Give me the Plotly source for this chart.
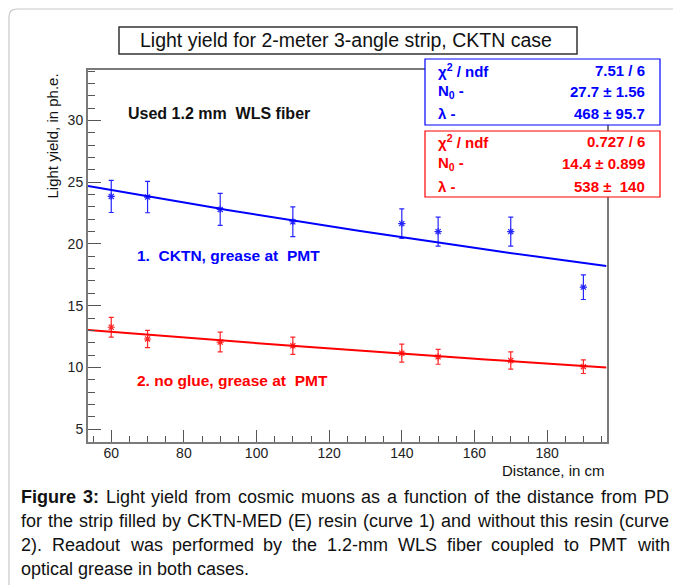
import numpy as np
import plotly.graph_objects as go

# ---------------- data ----------------
distance = [60, 70, 90, 110, 140, 150, 170, 190]
ly_ckt = [23.85, 23.8, 22.8, 21.8, 21.65, 21.0, 21.0, 16.5]
ly_ckt_err = [1.3, 1.27, 1.3, 1.2, 1.2, 1.17, 1.17, 1.0]
ly_noglue = [13.25, 12.3, 12.05, 11.75, 11.15, 10.85, 10.55, 10.05]
ly_noglue_err = [0.8, 0.7, 0.8, 0.7, 0.73, 0.6, 0.7, 0.55]

# fit parameters (from the stat boxes)
fit_ckt = {"N0": 27.7, "lam": 468.0}
fit_noglue = {"N0": 14.4, "lam": 538.0}
fit_range = [53.6, 196.3]

stat_labels = ["χ<sup>2</sup> / ndf", "N<sub>0</sub> -", "λ -"]
stat_ckt = ["7.51 / 6", "27.7 ± 1.56", "468 ± 95.7"]
stat_noglue = ["0.727 / 6", "14.4 ± 0.899", "538 ±\u00a0 140"]

NB = "\u00a0"
title_text = "Light yield for 2-meter 3-angle strip, CKTN case"
label_fiber = "Used 1.2 mm" + NB + " WLS fiber"
label_ckt = "1." + NB + " CKTN, grease at" + NB + " PMT"
label_noglue = "2. no glue, grease at" + NB + " PMT"
caption_bold = "Figure 3:"
caption_lines = [
    "Figure 3: Light yield from cosmic muons as a function of the distance from PD",
    "for the strip filled by CKTN-MED (E) resin (curve 1) and without this resin (curve",
    "2). Readout was performed by the 1.2-mm WLS fiber coupled to PMT with",
    "optical grease in both cases.",
]

# ---------------- layout geometry ----------------
# the page body offsets the figure by 8 px; geometry below is in screen pixels
OFF = 8
W, H = 681 - OFF, 585 - OFF
L, R, T, B = 88, 607, 70, 442   # plot frame in screen pixels


def px(x):
    return (x - L) / (R - L)


def py(y):
    return (B - y) / (B - T)


FONT = "Liberation Sans, Arial, Helvetica, sans-serif"
BLUE = "#0000ff"
RED = "#ff0000"

# Arial/Helvetica advance widths (per 1000 em) for caption justification
REG = {" ": 278, "(": 333, ")": 333, ",": 278, "-": 333, ".": 278, "/": 278, ":": 278,
       "A": 667, "B": 667, "C": 722, "D": 722, "E": 667, "F": 611, "G": 778, "H": 722,
       "I": 278, "J": 500, "K": 667, "L": 556, "M": 833, "N": 722, "O": 778, "P": 667,
       "Q": 778, "R": 722, "S": 667, "T": 611, "U": 722, "V": 667, "W": 944, "X": 667,
       "Y": 667, "Z": 611,
       "a": 556, "b": 556, "c": 500, "d": 556, "e": 556, "f": 278, "g": 556, "h": 556,
       "i": 222, "j": 222, "k": 500, "l": 222, "m": 833, "n": 556, "o": 556, "p": 556,
       "q": 556, "r": 333, "s": 500, "t": 278, "u": 556, "v": 500, "w": 722, "x": 500,
       "y": 500, "z": 500}
for d in "0123456789":
    REG[d] = 556
BOLD = dict(REG)
BOLD.update({"F": 611, "i": 278, "g": 611, "u": 611, "r": 389, "e": 556, ":": 333})


def text_w(s, size, bold=False):
    tab = BOLD if bold else REG
    return sum(tab.get(c, 556) for c in s) * size / 1000.0


fig = go.Figure()

fx = np.linspace(fit_range[0], fit_range[1], 80)
for fit, col in [(fit_ckt, BLUE), (fit_noglue, RED)]:
    fig.add_trace(go.Scatter(
        x=fx, y=fit["N0"] * np.exp(-fx / fit["lam"]),
        mode="lines", line=dict(color=col, width=2), hoverinfo="skip",
        showlegend=False))

for yv, ye, col in [(ly_ckt, ly_ckt_err, BLUE), (ly_noglue, ly_noglue_err, RED)]:
    fig.add_trace(go.Scatter(
        x=distance, y=yv, mode="markers",
        marker=dict(symbol="asterisk-open", size=6, color=col,
                    line=dict(color=col, width=1.2)),
        error_y=dict(type="data", array=ye, visible=True, color=col,
                     thickness=1.2, width=2.5),
        opacity=0.85, showlegend=False))

shapes = []
shapes.append(dict(
    type="path", xref="paper", yref="paper",
    path=f"M {px(9)},{py(700)} L {px(9)},{py(17)} Q {px(9)},{py(9)} {px(17)},{py(9)} L {px(720)},{py(9)}",
    line=dict(color="#c8c8c8", width=1.2), layer="below"))
shapes.append(dict(type="rect", xref="paper", yref="paper",
                   x0=px(119), x1=px(577), y0=py(54), y1=py(27),
                   line=dict(color="#333333", width=1.5), fillcolor="white",
                   layer="above"))
shapes.append(dict(type="rect", xref="paper", yref="paper",
                   x0=px(425), x1=px(660), y0=py(125), y1=py(59),
                   line=dict(color=BLUE, width=1.2), fillcolor="white",
                   layer="above"))
shapes.append(dict(type="rect", xref="paper", yref="paper",
                   x0=px(425), x1=px(660), y0=py(197), y1=py(131),
                   line=dict(color=RED, width=1.2), fillcolor="white",
                   layer="above"))

ann = []


def add_text(text, x, y, size, color="#111", xanchor="left", yanchor="middle", angle=0):
    ann.append(dict(text=text, x=px(x), y=py(y), xref="paper", yref="paper",
                    showarrow=False, xanchor=xanchor, yanchor=yanchor,
                    textangle=angle,
                    font=dict(family=FONT, size=size, color=color)))


add_text(title_text, 346, 40, 19.5, xanchor="center")

rows_b = [70, 92, 113]
rows_r = [141, 163, 186]
for i in range(3):
    for rows, vals, col in [(rows_b, stat_ckt, BLUE), (rows_r, stat_noglue, RED)]:
        add_text("<b>" + stat_labels[i] + "</b>", 436, rows[i], 15, col)
        add_text("<b>" + vals[i] + "</b>", 647, rows[i], 15, col, xanchor="right")

add_text("<b>" + label_fiber + "</b>", 126, 113, 16, "#111")
add_text("<b>" + label_ckt + "</b>", 135, 255, 15.5, BLUE)
add_text("<b>" + label_noglue + "</b>", 135, 380, 15.5, RED)

add_text("Light yield, in ph.e.", 52, 72, 15, xanchor="center", yanchor="top", angle=-90)
add_text("Distance, in cm", 607, 470, 15, xanchor="right")

# caption, justified between x=19 and x=667 (last line ragged)
CAP_SIZE = 18
CAP_L, CAP_R = 19, 667
nbold = len(caption_bold.split())
for li, line in enumerate(caption_lines):
    words = line.split()
    bolds = [li == 0 and wi < nbold for wi in range(len(words))]
    widths = [text_w(w, CAP_SIZE, b) for w, b in zip(words, bolds)]
    if li < len(caption_lines) - 1:
        gap = (CAP_R - CAP_L - sum(widths)) / (len(words) - 1)
    else:
        gap = REG[" "] * CAP_SIZE / 1000.0
    xcur = CAP_L
    yline = 497 + 24 * li
    for w, b, wd in zip(words, bolds, widths):
        add_text("<b>" + w + "</b>" if b else w, xcur, yline, CAP_SIZE, "#111")
        xcur += wd + gap

axis_common = dict(
    showgrid=False, zeroline=False, showline=True, mirror=True,
    linecolor="#7a7a7a", linewidth=2, ticks="inside", tickcolor="#555",
    tickwidth=1.3, tickfont=dict(family=FONT, size=14, color="#222"),
)

fig.update_layout(
    width=W, height=H,
    margin=dict(l=L - OFF, r=W - (R - OFF), t=T - OFF, b=H - (B - OFF)),
    paper_bgcolor="white", plot_bgcolor="white",
    shapes=shapes, annotations=ann,
    xaxis=dict(range=[53.6, 196.5], tick0=60, dtick=20, ticklen=12,
               ticklabelstandoff=-3,
               minor=dict(ticks="inside", tick0=55, dtick=5, ticklen=6,
                          tickcolor="#555", tickwidth=1.2),
               **axis_common),
    yaxis=dict(range=[3.95, 34.1], tick0=5, dtick=5, ticklen=13,
               minor=dict(ticks="inside", tick0=4, dtick=1, ticklen=7,
                          tickcolor="#555", tickwidth=1.2),
               **axis_common),
)

fig.write_html("out.html")
